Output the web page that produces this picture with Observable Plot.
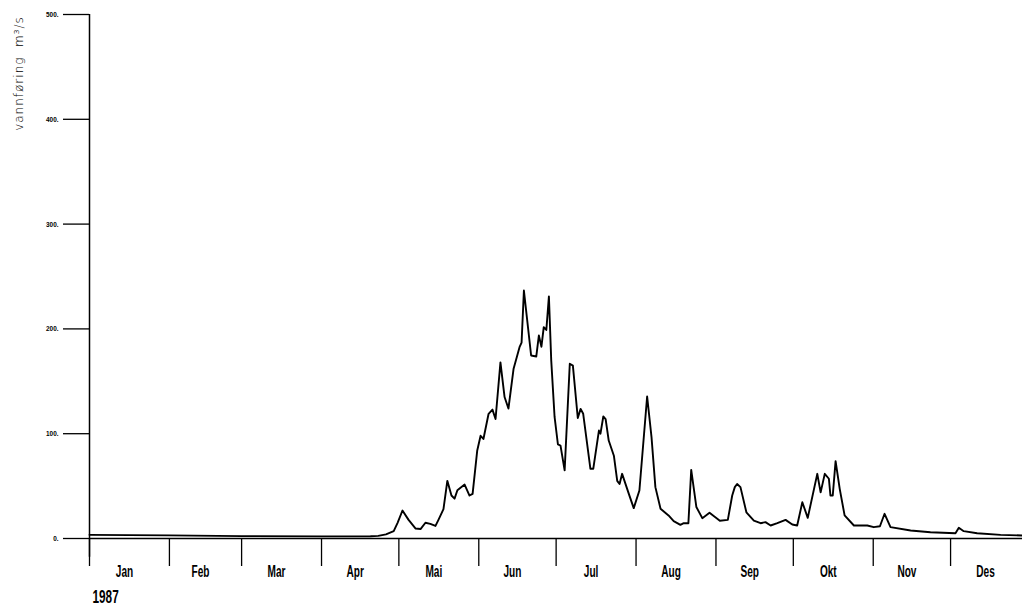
<!DOCTYPE html>
<html><head><meta charset="utf-8">
<script src="https://cdn.jsdelivr.net/npm/d3@7"></script>
<script src="https://cdn.jsdelivr.net/npm/@observablehq/plot@0.6"></script>
<style>body{margin:0;background:#fff} svg{display:block}</style>
</head><body><div id="chart"></div>
<script>
const monthNames = ["Jan","Feb","Mar","Apr","Mai","Jun","Jul","Aug","Sep","Okt","Nov","Des"];
const monthStart = [0,31,59,90,120,151,181,212,243,273,304,334];
const monthLength = [31,28,31,30,31,30,31,31,30,31,30,31];
const yTicks = [0,100,200,300,400,500];
const yearLabel = ["1987"];
const yLabel = ["vannføring  m³/s"];
// [day of year (0 = 1 Jan), discharge m3/s]
const discharge = [
 [0,3.5],[31,3.0],[59,2.3],[90,2.0],[109,2.2],[112,2.5],[115,4],[118,7],[119.5,15],[121.4,26.7],
 [123.7,18],[126.5,9.5],[128.4,9],[130.3,15],[132.2,14],[134.2,12],[135.4,18],[137.3,28],[138.8,55],
 [140.4,41],[141.6,38],[142.7,46],[145.5,51.5],[147.4,41],[148.6,42.6],[150.4,84],[151.7,98],[152.8,95],
 [154.8,119],[156.3,123],[157.5,114],[159.4,168],[161,135],[162.5,124],[164.5,162],[166.8,182.5],
 [167.6,187],[168.5,236.6],[171.3,174.6],[173.3,173.7],[174.3,193.7],[175.3,183],[176.2,201.6],
 [177.2,199],[178.2,231],[179.1,170],[180.4,116],[181.7,89.7],[182.7,88.7],[184.3,65],[186.3,166.7],
 [187.5,165],[189.4,115],[190.5,123.7],[191.5,119],[194.3,66.5],[195.4,66.5],[197.6,103],[198.2,100],
 [199.3,116.4],[200.2,114],[201.4,93.5],[203.4,79],[204.7,55],[205.6,52],[206.6,61.7],[209.2,42.6],
 [211.1,29],[213.3,45.8],[216.3,135.5],[218,96.7],[219.5,49],[221.5,28.3],[224.6,22],[226.6,16.5],
 [229.2,13],[230.5,14.6],[232.3,14.6],[233.4,65.5],[235.4,30],[237.7,19.4],[240.5,24.5],[244.5,17],
 [247.6,17.8],[249.3,41],[250.3,49],[251.2,52],[252.5,49],[254.8,25],[257.7,17],[260.3,14.6],[262.2,15.6],
 [264.2,12.4],[266.8,14.6],[270,17.8],[272.6,13.4],[274.5,12.4],[276.5,34.6],[278.6,19.7],[282.3,61.7],
 [283.6,44],[285.2,61.7],[286.8,57],[287.4,41],[288.3,41],[289.4,73.8],[291,47.4],[292.9,22],
 [296.5,12.4],[301.7,12.4],[304.2,10.8],[306.6,11.7],[308.4,23.6],[310.7,10.8],[318.5,7.6],[326.2,6],
 [335.9,5],[337.2,10.2],[339.1,7],[344.3,5],[353.4,3.5],[361.9,2.9]
];

const data = discharge.map(([d, v]) => ({day: d, q: v}));
const monthMid = monthStart.map((s, i) => s + monthLength[i] / 2);
const narrow = "'Liberation Sans Narrow', 'Arial Narrow', sans-serif";

const chart = Plot.plot({
  width: 1022, height: 610,
  marginLeft: 89, marginRight: 0, marginTop: 14, marginBottom: 72,
  style: {background: "#fff", color: "#000", fontFamily: narrow},
  x: {type: "linear", domain: [0, 361.9], label: null},
  y: {domain: [0, 500], label: null},
  marks: [
    Plot.axisY({ticks: yTicks, tickSize: 26, tickPadding: 5, tickFormat: d => d + ".", fontSize: 8, fontWeight: "bold", fill: "#000", strokeWidth: 1.3, label: null, className: "ytl"}),
    Plot.ruleX([0], {y1: -18, y2: 500, strokeWidth: 1.5}),
    Plot.ruleY([0], {strokeWidth: 1.5}),
    Plot.axisX({ticks: monthStart, tickSize: 28, tickFormat: () => "", strokeWidth: 1.3, label: null}),
    Plot.text(monthNames, {x: (d, i) => monthMid[i], frameAnchor: "bottom", lineAnchor: "middle", textAnchor: "middle", dy: 33, dx: -5, fontSize: 16, fontWeight: "bold", className: "mlab"}),
    Plot.text(yearLabel, {x: 0, frameAnchor: "bottom", lineAnchor: "middle", textAnchor: "start", dy: 58, dx: 3, fontSize: 19, fontWeight: "bold", className: "ylab"}),
    Plot.text(yLabel, {frameAnchor: "top-left", textAnchor: "middle", lineAnchor: "middle", dx: -70, dy: 59, rotate: -90, fontSize: 12, fontFamily: "DejaVu Sans", fill: "#000", className: "vlab"}),
    Plot.line(data, {x: "day", y: "q", stroke: "#000", strokeWidth: 1.9})
  ]
});
document.getElementById("chart").append(chart);

function squeeze(sel, f) {
  d3.select(chart).selectAll(sel).each(function() {
    const L = this.getComputedTextLength();
    d3.select(this).attr("textLength", L * f).attr("lengthAdjust", "spacingAndGlyphs");
  });
}
squeeze(".mlab text", 0.63);
squeeze(".ylab text", 0.62);
squeeze(".ytl text", 0.8);
d3.select(chart).selectAll(".vlab text").style("letter-spacing", "1px").style("font-weight", "300").style("white-space", "pre");
</script></body></html>
